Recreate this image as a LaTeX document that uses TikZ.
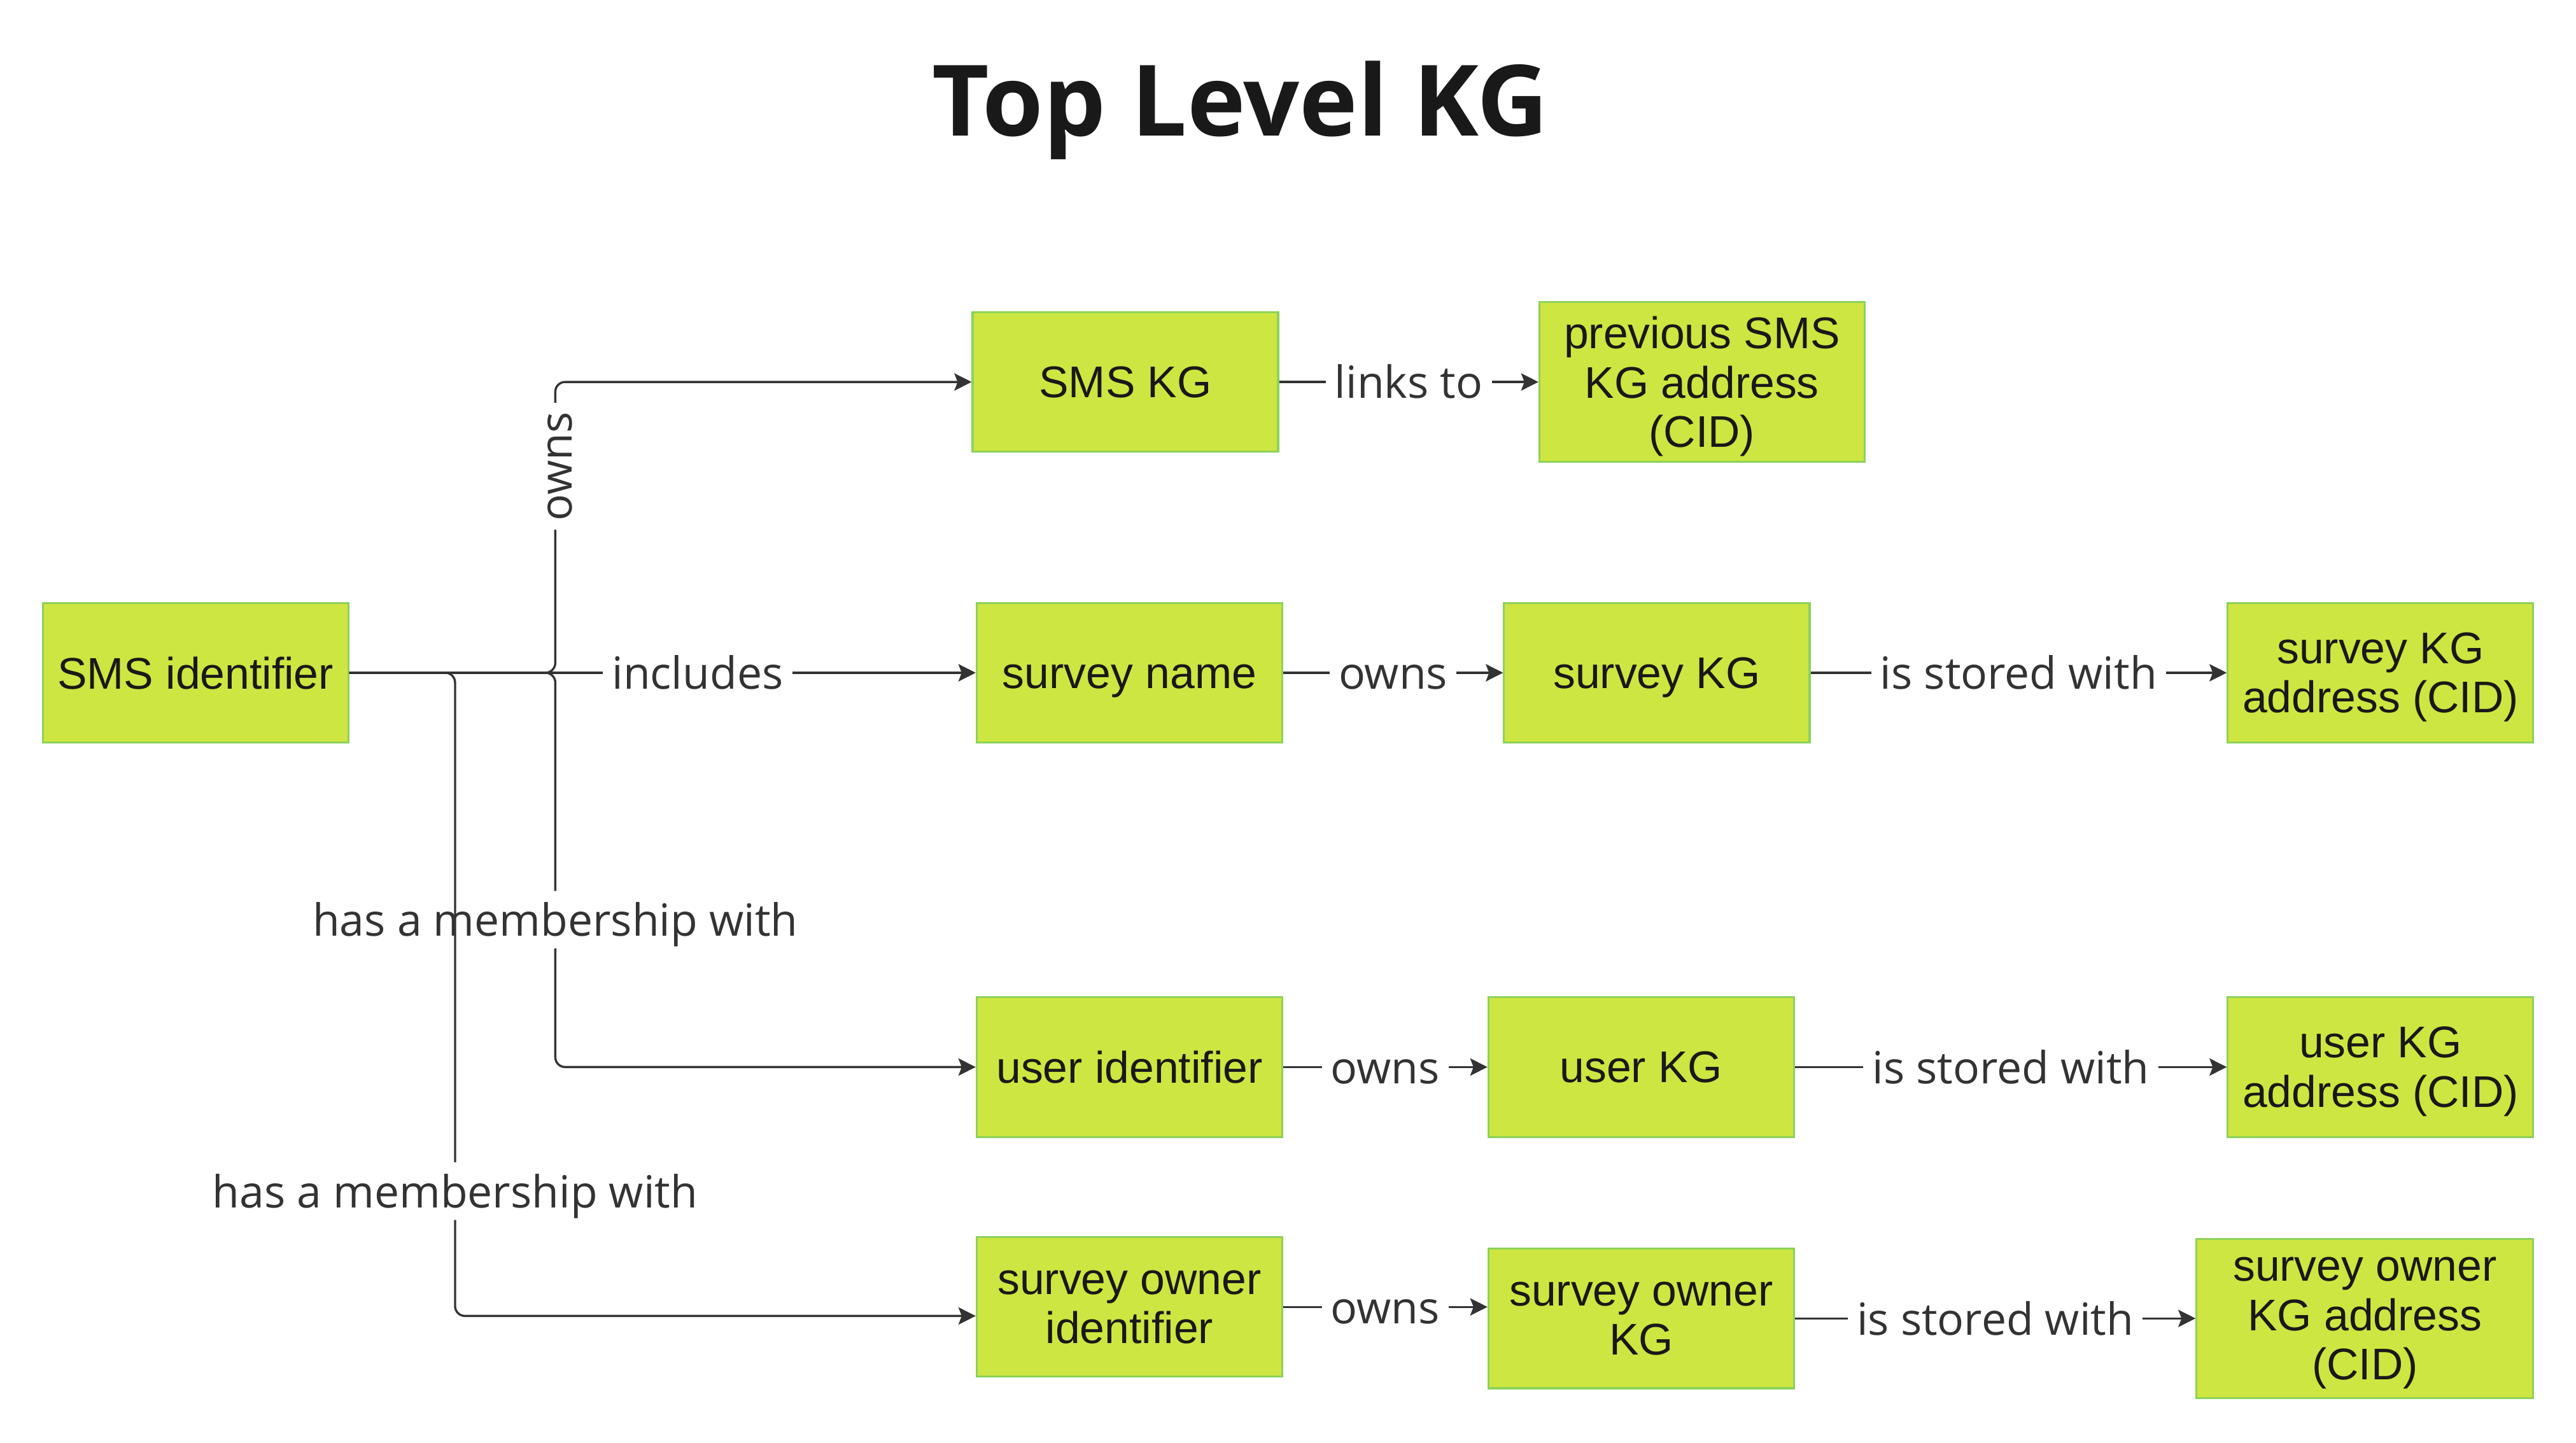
\documentclass[tikz,border=0pt]{standalone}
\usepackage{fontspec}
\setmainfont{Liberation Sans}
\newfontfamily\labelfont{Open Sans}
\usetikzlibrary{arrows.meta}
\definecolor{kgfill}{RGB}{206,230,65}
\definecolor{kgline}{RGB}{140,210,90}
\definecolor{ink}{RGB}{51,51,51}
\tikzset{
  kg node/.style={
    draw=kgline,
    line width=1.2pt,
    fill=kgfill,
    text=black!90,
    align=center,
    inner sep=0pt,
    minimum width=186pt,
    minimum height=85pt,
    text depth=0pt,
    execute at begin node=\vphantom{S},
    font=\fontsize{27}{30}\selectfont,
  },
  rel/.style={
    draw=ink,
    line width=1.3pt,
    -{Stealth[length=10.5pt,width=10.5pt,inset=2pt]},
  },
  rel label/.style={
    fill=white,
    text=ink,
    inner xsep=5.5pt,
    inner ysep=7.5pt,
    text height=20pt,
    text depth=0pt,
    font=\labelfont\fontsize{27}{30}\selectfont,
  },
}

\begin{document}
\begin{tikzpicture}[x=1pt, y=-1pt]
      \useasboundingbox (0,0) rectangle (1568,878.3);

      \node[font=\labelfont\bfseries\fontsize{60}{66}\selectfont, text=black!90] (title) at (755,67) {Top Level KG};

      \node[kg node] (smsid)   at (119,409.5)  {SMS identifier};
      \node[kg node] (smskg)   at (685,232.5)  {SMS KG};
      \node[kg node, minimum width=198pt, minimum height=97pt] (prevcid) at (1036,232.5) {previous SMS\\KG address\\(CID)};
      \node[kg node] (svname)  at (687.5,409.5) {survey name};
      \node[kg node] (svkg)    at (1008.5,409.5) {survey KG};
      \node[kg node] (svcid)   at (1449,409.5)  {survey KG\\address (CID)};
      \node[kg node] (userid)  at (687.5,649.5) {user identifier};
      \node[kg node] (userkg)  at (999,649.5)   {user KG};
      \node[kg node] (usercid) at (1449,649.5)  {user KG\\address (CID)};
      \node[kg node] (sownid)  at (687.5,795.5) {survey owner\\identifier};
      \node[kg node] (sownkg)  at (999,802.5)   {survey owner\\KG};
      \node[kg node, minimum width=205pt, minimum height=97pt] (sowncid) at (1439.5,802.5) {survey owner\\KG address\\(CID)};

      \coordinate (split) at (338,409.5);
      \coordinate (split2) at (277,409.5);

      % branches out of the SMS identifier
      \draw[rel, rounded corners=6] (smsid.east) -- (split) |- node[rel label, rotate=90, pos=0.355]{owns} (smskg.west);
      \draw[rel] (smsid.east) -- node[rel label, pos=0.556]{includes} (svname.west);
      \draw[rel, rounded corners=6] (smsid.east) -- (split) |- node[rel label, pos=0.313]{has a membership with} (userid.west);
      \draw[rel, rounded corners=6] (smsid.east) -- (split2) |- node[rel label, pos=0.403]{has a membership with} ([yshift=-5.5pt]sownid.west);

      \draw[rel] (smskg)  -- node[rel label]{links to} (prevcid);

      \draw[rel] (svname) -- node[rel label]{owns} (svkg);
      \draw[rel] (svkg)   -- node[rel label]{is stored with} (svcid);

      \draw[rel] (userid) -- node[rel label]{owns} (userkg);
      \draw[rel] (userkg) -- node[rel label]{is stored with} (usercid);

      \draw[rel] (sownid.east) -- node[rel label]{owns} (sownid.east -| sownkg.west);
      \draw[rel] (sownkg) -- node[rel label]{is stored with} (sowncid);
\end{tikzpicture}
\end{document}
